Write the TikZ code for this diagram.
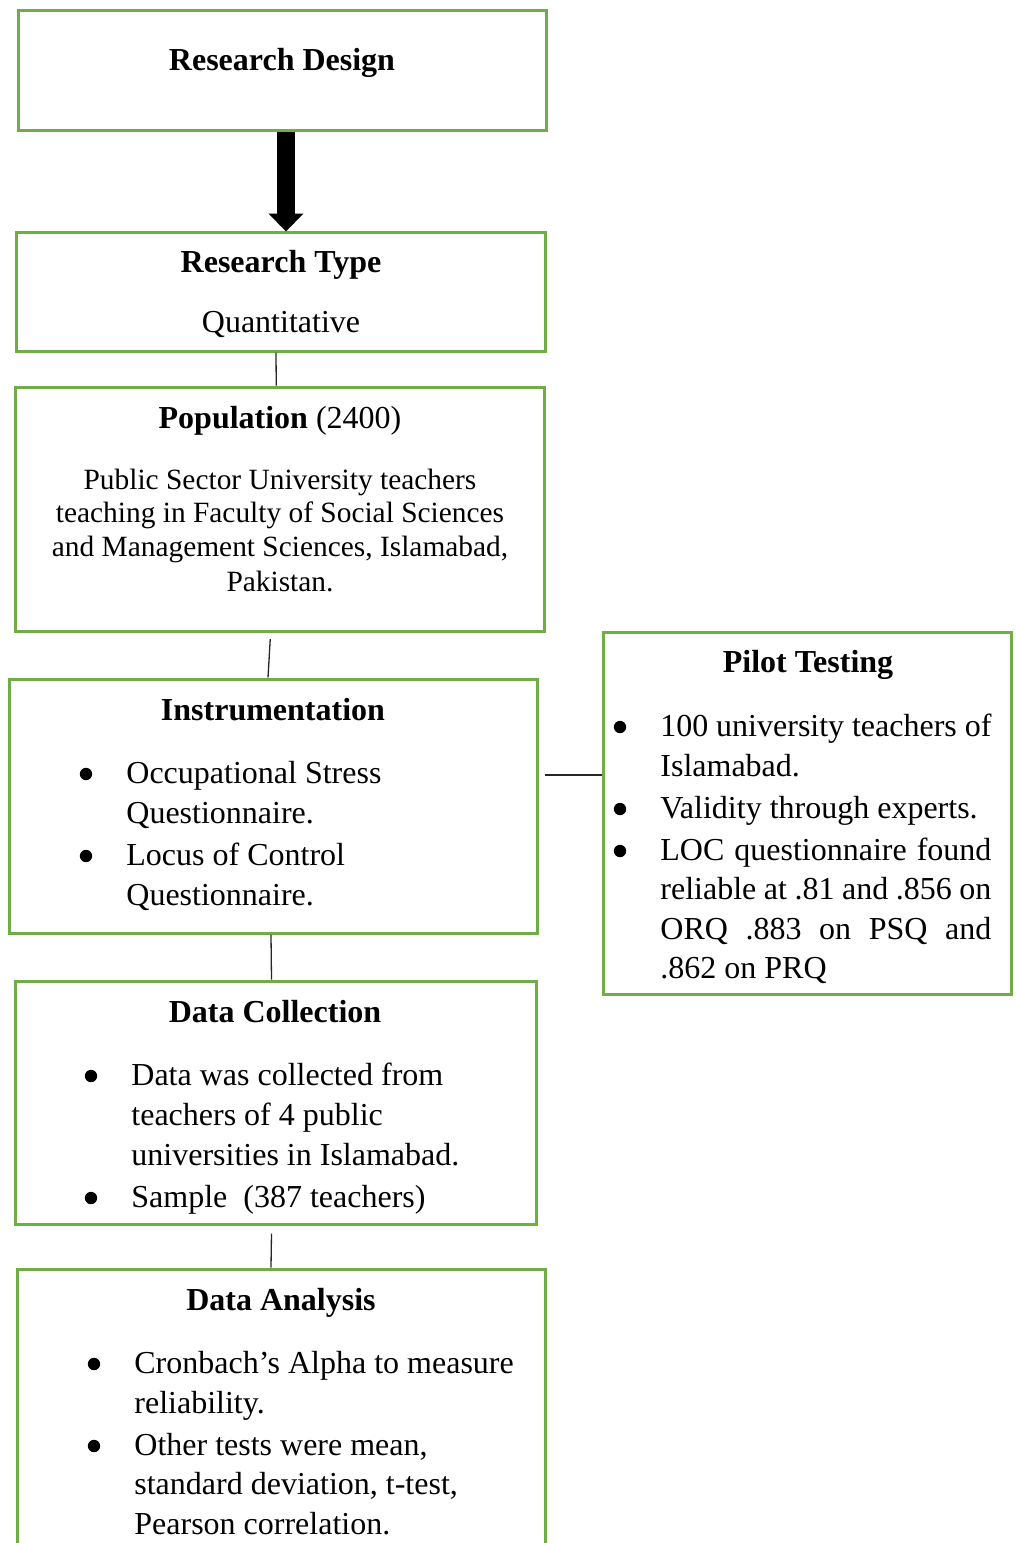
\documentclass[tikz,border=0pt]{standalone}
\usepackage{fontspec}
\setmainfont{Liberation Serif}
\usetikzlibrary{arrows.meta}
\definecolor{boxgreen}{RGB}{112,173,71}
\newcommand\bodyfont{\fontsize{16}{20}\selectfont}
\newcommand\popfont{\fontsize{14.7}{18}\selectfont}
\begin{document}
\begin{tikzpicture}[x=0.5pt,y=-0.5pt,
  box/.style={draw=boxgreen, line width=1.5pt, inner sep=0, rectangle},
  conn/.style={draw=black!85, line width=0.65pt},
  hd/.style={anchor=base, inner sep=0, font=\bodyfont\bfseries},
  ctr/.style={anchor=base, inner sep=0, font=\bodyfont},
  pl/.style={anchor=base, inner sep=0, font=\popfont},
  itm/.style={anchor=base west, inner sep=0, font=\bodyfont},
  dotr/.style={radius=3.1pt}]
\useasboundingbox (0,0) rectangle (1016,1543);
\clip (0,0) rectangle (1016,1543);

% boxes
\node[box, minimum width=264pt, minimum height=59.75pt] (design) at (282,70.25) {};
\node[box, minimum width=264.5pt, minimum height=59.5pt] (rtype) at (280.5,291.5) {};
\node[box, minimum width=264.25pt, minimum height=122.25pt] (pop) at (279.75,509.25) {};
\node[box, minimum width=264pt, minimum height=127pt] (instr) at (273,806) {};
\node[box, minimum width=204pt, minimum height=181pt] (pilot) at (807.5,813) {};
\node[box, minimum width=260.5pt, minimum height=121.5pt] (dcoll) at (275.5,1102.5) {};
\node[box, minimum width=264pt, minimum height=175.5pt] (danal) at (281,1444.5) {};

% connectors
\draw[line width=9pt, -{Triangle[width=17pt,length=9pt]}]
  ([shift={(4,0)}]design.south) -- ([shift={(5.5,1)}]rtype.north);
\draw[conn] ([shift={(-4.5,0)}]rtype.south) -- ([shift={(-3.5,0)}]pop.north);
\draw[conn] ([shift={(-9.5,6)}]pop.south) -- ([shift={(-5,0)}]instr.north);
\draw[conn] ([shift={(6,-31)}]instr.east) -- ([shift={(0,-38)}]pilot.west);
\draw[conn] ([shift={(-2,0)}]instr.south) -- ([shift={(-4,0)}]dcoll.north);
\draw[conn] ([shift={(-4,8)}]dcoll.south) -- ([shift={(-10,0)}]danal.north);

% Research Design
\node[hd] (t1) at (282,70) {Research Design};

% Research Type
\node[hd] (t2) at (281,272) {Research Type};
\node[ctr] (t2a) at (281,332) {Quantitative};

% Population
\node[ctr] (t3) at (280,428) {\textbf{Population} (2400)};
\node[pl] (t3a) at (280,489) {Public Sector University teachers};
\node[pl] (t3b) at (280,522) {teaching in Faculty of Social Sciences};
\node[pl] (t3c) at (280,556) {and Management Sciences, Islamabad,};
\node[pl] (t3d) at (280,591) {Pakistan.};

% Instrumentation
\node[hd] (t4) at (273,720) {Instrumentation};
\fill[dotr] (86,774) circle;
\node[itm] (t4a) at (126,783) {Occupational Stress};
\node[itm] (t4b) at (126,823) {Questionnaire.};
\fill[dotr] (86,856) circle;
\node[itm] (t4c) at (126,865) {Locus of Control};
\node[itm] (t4d) at (126,905) {Questionnaire.};

% Pilot Testing
\node[hd] (t5) at (808,672) {Pilot Testing};
\fill[dotr] (620,727) circle;
\node[itm] (t5a) at (660,736) {\makebox[165.5pt][s]{100 university teachers of}};
\node[itm] (t5b) at (660,776) {Islamabad.};
\fill[dotr] (620,809) circle;
\node[itm] (t5c) at (660,818) {Validity through experts.};
\fill[dotr] (620,851) circle;
\node[itm] (t5d) at (660,860) {\makebox[165.5pt][s]{LOC questionnaire found}};
\node[itm] (t5e) at (660,899) {\makebox[165.5pt][s]{reliable at .81 and .856 on}};
\node[itm] (t5f) at (660,939) {\makebox[165.5pt][s]{ORQ .883 on PSQ and}};
\node[itm] (t5g) at (660,978) {.862 on PRQ};

% Data Collection
\node[hd] (t6) at (275,1022) {Data Collection};
\fill[dotr] (91,1076) circle;
\node[itm] (t6a) at (131,1085) {Data was collected from};
\node[itm] (t6b) at (131,1125) {teachers of 4 public};
\node[itm] (t6c) at (131,1165) {universities in Islamabad.};
\fill[dotr] (91,1198) circle;
\node[itm] (t6d) at (131,1207) {Sample\ \ (387 teachers)};

% Data Analysis
\node[hd] (t7) at (281,1310) {Data Analysis};
\fill[dotr] (94,1364) circle;
\node[itm] (t7a) at (134,1373) {Cronbach’s Alpha to measure};
\node[itm] (t7b) at (134,1413) {reliability.};
\fill[dotr] (94,1446) circle;
\node[itm] (t7c) at (134,1455) {Other tests were mean,};
\node[itm] (t7d) at (134,1494) {standard deviation, t-test,};
\node[itm] (t7e) at (134,1534) {Pearson correlation.};
\end{tikzpicture}
\end{document}
